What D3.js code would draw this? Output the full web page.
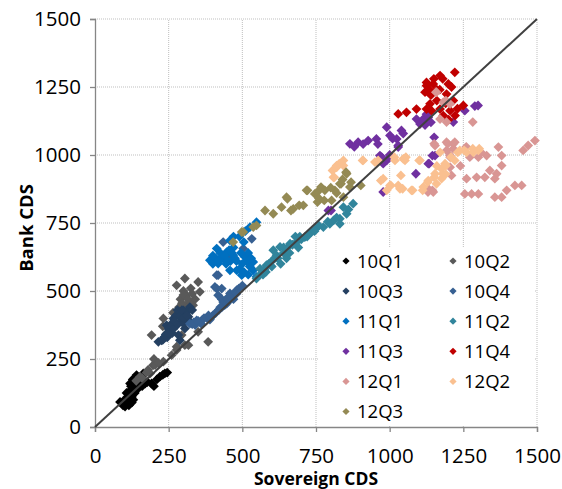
<!DOCTYPE html>
<html>
<head>
<meta charset="utf-8">
<script src="https://cdn.jsdelivr.net/npm/d3@7"></script>
<style>
  html, body { margin: 0; padding: 0; background: #fff; }
  svg { display: block; }
  text { font-family: "Open Sans", "Liberation Sans", sans-serif; fill: #000; }
</style>
</head>
<body>
<svg id="chart" width="562" height="489"></svg>
<script>
// Bank CDS vs sovereign CDS, one series per quarter (values in bp: [sovereign, bank])
const q10Q1 = [[85,92],[95,80],[102,75],[108,85],[112,95],[100,100],[115,105],[107,125],[118,118],[125,110],[120,135],[119,160],[130,145],[135,165],[140,155],[128,175],[141,191],[150,180],[155,170],[164,197],[160,150],[170,160],[178,165],[192,160],[200,150],[220,185],[230,192],[237,197],[245,200],[210,175],[135,125],[145,140],[125,90],[115,80],[98,90],[150,160],[105,95],[110,110],[122,150],[132,130],[138,180],[145,170],[160,185],[120,100],[130,100]];
const q10Q2 = [[153,185],[175,200],[197,227],[187,197],[204,228],[232,240],[260,264],[277,283],[277,295],[305,301],[317,301],[243,344],[192,338],[232,399],[294,338],[384,313],[311,423],[333,448],[311,484],[356,497],[277,521],[305,546],[350,533],[290,470],[320,460],[300,500],[325,510],[340,470],[285,440],[310,440],[265,420],[230,370],[350,350],[200,250],[160,180],[140,170],[180,210],[215,236],[300,485],[315,470],[295,455],[330,490]];
const q10Q3 = [[215,313],[226,319],[235,330],[254,350],[243,374],[266,399],[271,368],[283,338],[288,319],[288,386],[283,417],[300,429],[317,405],[305,362],[322,441],[260,380],[275,410],[295,400],[310,420],[250,360],[240,340],[300,380],[320,390],[330,430],[280,430],[230,320],[262,345],[245,330],[258,370],[270,390],[290,410],[300,400],[312,410],[278,375],[265,360],[295,430],[250,345]];
const q10Q4 = [[322,380],[335,385],[350,390],[365,395],[380,400],[395,405],[401,411],[410,420],[420,430],[430,440],[440,448],[447,454],[455,465],[465,480],[475,495],[481,503],[488,509],[435,460],[413,509],[418,484],[407,515],[430,509],[458,491],[413,558],[418,558],[435,680],[503,656],[532,692],[455,630],[360,380],[340,375],[390,395],[470,470],[500,520],[430,470],[447,472],[330,378],[345,392],[370,400],[385,410],[425,440],[450,470],[460,478],[480,490]];
const q11Q1 = [[390,613],[400,600],[413,656],[418,601],[425,640],[435,619],[447,643],[458,686],[469,631],[481,576],[498,558],[509,625],[526,735],[537,607],[537,576],[548,552],[548,753],[458,576],[445,600],[470,660],[490,700],[510,720],[480,610],[460,610],[500,600],[520,640],[430,625],[410,620],[490,580],[525,590],[505,680],[470,700],[420,610],[440,630],[450,610],[465,640],[475,620],[495,640],[515,610],[530,620],[520,560],[505,570],[455,650],[400,630]];
const q11Q2 = [[548,546],[560,582],[570,560],[582,595],[600,590],[605,650],[616,631],[628,662],[640,640],[650,656],[662,674],[684,680],[700,690],[712,698],[735,717],[750,730],[775,735],[797,747],[831,766],[831,747],[843,808],[854,784],[876,821],[620,620],[660,640],[690,660],[630,600],[580,570],[720,700],[760,740],[810,760],[650,620],[680,700],[600,610],[560,560],[575,580],[590,600],[610,620],[640,660],[670,670],[695,700],[725,710],[745,720],[790,755],[820,770],[860,800]];
const q11Q3 = [[792,796],[801,796],[865,1041],[880,1030],[893,1047],[910,1040],[927,1053],[955,1059],[967,998],[973,992],[978,968],[978,864],[990,980],[990,1102],[1001,1072],[1024,1059],[1029,1029],[1029,1035],[1040,1090],[1046,1079],[1089,931],[1091,1132],[1103,1114],[1114,1126],[1114,1132],[1131,1138],[1131,968],[1145,998],[1151,1065],[1154,998],[1134,968],[1216,1121],[1255,1163],[1289,1180],[1300,1182],[1120,1110],[1140,1120],[1125,1150],[1000,1000],[960,1040],[1010,1060]];
const q11Q4 = [[1029,1151],[1057,1157],[1091,1169],[1120,1231],[1125,1169],[1125,1255],[1125,1267],[1137,1188],[1142,1163],[1148,1261],[1160,1240],[1171,1292],[1171,1169],[1182,1145],[1193,1224],[1199,1261],[1205,1163],[1216,1200],[1221,1304],[1222,1145],[1250,1182],[1180,1280],[1160,1200],[1190,1190],[1140,1220],[1210,1250],[1150,1280],[1230,1170],[1200,1130],[1170,1240],[1135,1240]];
const q12Q1 = [[1157,1231],[1159,1231],[1182,1194],[1191,1200],[1205,1188],[1171,1132],[1193,1121],[1282,1121],[1130,864],[1145,870],[1148,864],[1131,876],[1151,1041],[1154,1035],[1193,1047],[1197,1041],[1216,1023],[1205,998],[1216,1041],[1221,1047],[1193,1017],[1205,992],[1205,955],[1210,925],[1255,857],[1261,913],[1272,992],[1278,857],[1295,918],[1301,992],[1301,857],[1323,918],[1329,998],[1340,943],[1357,913],[1357,845],[1363,931],[1369,1029],[1380,998],[1380,961],[1380,845],[1397,870],[1425,888],[1448,888],[1453,1017],[1470,1035],[1493,1053],[1240,960],[1310,1010],[1260,1030]];
const q12Q2 = [[806,943],[809,918],[812,918],[820,955],[820,961],[829,968],[843,961],[843,980],[908,980],[910,980],[950,974],[958,974],[961,980],[970,906],[978,913],[990,870],[1001,888],[1004,888],[1016,992],[1018,980],[1029,888],[1035,876],[1038,925],[1044,876],[1046,986],[1052,980],[1055,992],[1074,870],[1078,870],[1100,980],[1103,980],[1112,870],[1114,882],[1129,900],[1131,906],[1151,918],[1154,931],[1159,894],[1171,1010],[1176,913],[1176,949],[1180,931],[1188,968],[1191,961],[1208,992],[1221,980],[1231,1010],[1238,1017],[1253,1017],[1261,1010],[1282,1023],[1284,1010],[1301,1017],[1304,1023],[1160,960],[1190,930]];
const q12Q3 = [[469,680],[498,717],[503,717],[537,735],[548,741],[577,796],[605,784],[633,808],[650,845],[653,839],[665,796],[673,802],[693,815],[707,815],[718,870],[721,870],[746,857],[755,827],[755,864],[767,882],[778,833],[780,870],[803,833],[814,870],[831,894],[835,894],[843,845],[852,937],[854,931],[865,882],[869,900],[902,888],[820,860],[800,880],[760,840],[840,910]];

const quarterLabels = ["10Q1","10Q2","10Q3","10Q4","11Q1","11Q2","11Q3","11Q4","12Q1","12Q2","12Q3"];
const quarterValues = [q10Q1,q10Q2,q10Q3,q10Q4,q11Q1,q11Q2,q11Q3,q11Q4,q12Q1,q12Q2,q12Q3];
const quarterColors = ["#000000","#595959","#254061","#376092","#0070C0","#31859C","#7030A0","#C00000","#D99694","#FAC090","#948A54"];

const xTicks = [0,250,500,750,1000,1250,1500];
const yTicks = [0,250,500,750,1000,1250,1500];
const xTitle = "Sovereign CDS";
const yTitle = "Bank CDS";

const svg = d3.select("#chart");
const plotLeft = 95, plotRight = 537, plotTop = 19, plotBottom = 427;

const x = d3.scaleLinear().domain([0,1500]).range([plotLeft,plotRight]);
const y = d3.scaleLinear().domain([0,1500]).range([plotBottom,plotTop]);

// dotted grid
const grid = svg.append("g");
grid.selectAll("line.gx").data(xTicks.filter(d => d > 0)).join("line")
  .attr("x1", d => x(d)).attr("x2", d => x(d))
  .attr("y1", y(0)).attr("y2", y(1500))
  .attr("stroke", "#BFBFBF").attr("stroke-width", 1).attr("stroke-dasharray", "1,1");
grid.selectAll("line.gy").data(yTicks.filter(d => d > 0)).join("line")
  .attr("x1", x(0)).attr("x2", x(1500))
  .attr("y1", d => y(d)).attr("y2", d => y(d))
  .attr("stroke", "#BFBFBF").attr("stroke-width", 1).attr("stroke-dasharray", "1,1");

// axes
const xAxis = svg.append("g").attr("transform", `translate(0,${plotBottom})`)
  .call(d3.axisBottom(x).tickValues(xTicks).tickSize(5).tickPadding(16).tickFormat(d3.format("d")));
const yAxis = svg.append("g").attr("transform", `translate(${plotLeft},0)`)
  .call(d3.axisLeft(y).tickValues(yTicks).tickSize(5).tickPadding(9).tickFormat(d3.format("d")));
[xAxis, yAxis].forEach(a => {
  a.select(".domain").attr("stroke", "#868686").attr("stroke-width", 1.3);
  a.selectAll(".tick line").attr("stroke", "#868686").attr("stroke-width", 1.3);
  a.selectAll(".tick text").attr("font-family", "Open Sans").attr("font-size", 20.5).attr("fill", "#000");
});

// diamond markers
const diamond = r => `M0,${-r}L${r},0L0,${r}L${-r},0Z`;

const pts = svg.append("g");
quarterValues.forEach((vals, i) => {
  pts.append("g").selectAll("path").data(vals).join("path")
    .attr("d", diamond(4.9))
    .attr("transform", d => `translate(${x(d[0])},${y(d[1])})`)
    .attr("fill", quarterColors[i]);
});

// 45-degree reference line
svg.append("line")
  .attr("x1", x(0)).attr("y1", y(0)).attr("x2", x(1500)).attr("y2", y(1500))
  .attr("stroke", "#404040").attr("stroke-width", 2);

// legend
const lg = svg.append("g");
lg.append("rect").attr("x", 319).attr("y", 247).attr("width", 216).attr("height", 178).attr("fill", "#fff");
quarterLabels.forEach((lab, i) => {
  const col = i % 2, row = Math.floor(i / 2);
  const cx = col === 0 ? 346 : 453;
  const cy = 261 + row * 30.1;
  lg.append("path").attr("d", diamond(3.6)).attr("transform", `translate(${cx},${cy})`).attr("fill", quarterColors[i]);
  lg.append("text").attr("x", cx + 11).attr("y", cy + 6.5).attr("font-size", 18.5).text(lab);
});

// axis titles
svg.append("text").attr("x", 316).attr("y", 485).attr("text-anchor", "middle")
  .attr("font-weight", "bold").attr("font-size", 17.5).text(xTitle);
svg.append("text").attr("transform", "translate(33,228) rotate(-90)").attr("text-anchor", "middle")
  .attr("font-weight", "bold").attr("font-size", 18.5).text(yTitle);
</script>
</body>
</html>
